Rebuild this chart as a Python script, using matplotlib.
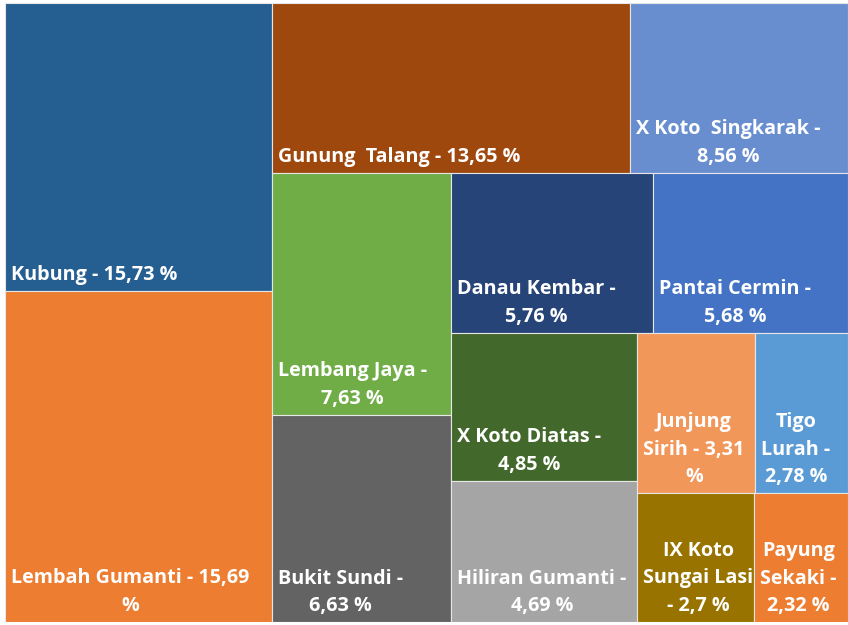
import matplotlib.pyplot as plt
from matplotlib.patches import Rectangle

# kecamatan, label text and share
names = ["Kubung", "Lembah Gumanti", "Gunung  Talang", "X Koto  Singkarak",
         "Lembang Jaya", "Bukit Sundi", "Danau Kembar", "Pantai Cermin",
         "X Koto Diatas", "Hiliran Gumanti", "Junjung Sirih", "Tigo Lurah",
         "IX Koto Sungai Lasi", "Payung Sekaki"]
percent = ["15,73", "15,69", "13,65", "8,56", "7,63", "6,63", "5,76", "5,68",
           "4,85", "4,69", "3,31", "2,78", "2,7", "2,32"]
# tile sizes as estimated from the areas in the picture
sizes = [14.74, 16.94, 11.66, 7.10, 8.30, 7.10, 6.19, 5.98,
         5.28, 5.03, 3.62, 2.85, 2.89, 2.32]
# label text as wrapped in the tiles
labels = ["Kubung - 15,73 %", "Lembah Gumanti - 15,69\n%",
          "Gunung  Talang - 13,65 %", "X Koto  Singkarak -\n8,56 %",
          "Lembang Jaya -\n7,63 %", "Bukit Sundi -\n6,63 %",
          "Danau Kembar -\n5,76 %", "Pantai Cermin -\n5,68 %",
          "X Koto Diatas -\n4,85 %", "Hiliran Gumanti -\n4,69 %",
          "Junjung\nSirih - 3,31\n%", "Tigo\nLurah -\n2,78 %",
          "IX Koto\nSungai Lasi\n- 2,7 %", "Payung\nSekaki -\n2,32 %"]
colors = ["#255E91", "#ED7D31", "#9E480E", "#698ED0", "#70AD47", "#636363",
          "#264478", "#4472C4", "#43682B", "#A5A5A5", "#F1975A", "#5B9BD5",
          "#997300", "#ED7D31"]

# split tree: 'v' = side by side, 'h' = stacked top to bottom
tree = ('v', [('h', [0, 1]),
              ('h', [('v', [2, 3]),
                     ('v', [('h', [4, 5]),
                            ('h', [('v', [6, 7]),
                                   ('v', [('h', [8, 9]),
                                          ('h', [('v', [10, 11]),
                                                 ('v', [12, 13])])])])])])])


def total(node):
    if isinstance(node, int):
        return sizes[node]
    return sum(total(c) for c in node[1])


def layout(node, x, y, w, h, out):
    if isinstance(node, int):
        out[node] = (x, y, w, h)
        return
    kind, kids = node
    s = total(node)
    pos = 0.0
    for c in kids:
        f = total(c) / s
        if kind == 'v':
            layout(c, x + pos * w, y, f * w, h, out)
        else:
            # top to bottom, y axis points up
            layout(c, x, y + h - (pos + f) * h, w, f * h, out)
        pos += f


rects = {}
layout(tree, 0, 0, 1, 1, rects)

fig = plt.figure(figsize=(8.48, 6.25), dpi=100)
ax = fig.add_axes([5 / 848, 3 / 625, 843 / 848, 619 / 625])
ax.set_xlim(0, 1)
ax.set_ylim(0, 1)
ax.axis('off')

for i in range(len(names)):
    x, y, w, h = rects[i]
    ax.add_patch(Rectangle((x, y), w, h, facecolor=colors[i],
                           edgecolor='#e6e6e6', linewidth=0.8))
    ax.annotate(labels[i], (x, y), xytext=(6, 6), textcoords='offset pixels',
                ha='left', va='bottom', multialignment='center',
                color='white', fontsize=14.2, fontweight='bold',
                family='Open Sans', linespacing=1.5)

fig.savefig('out.png', dpi=100)
